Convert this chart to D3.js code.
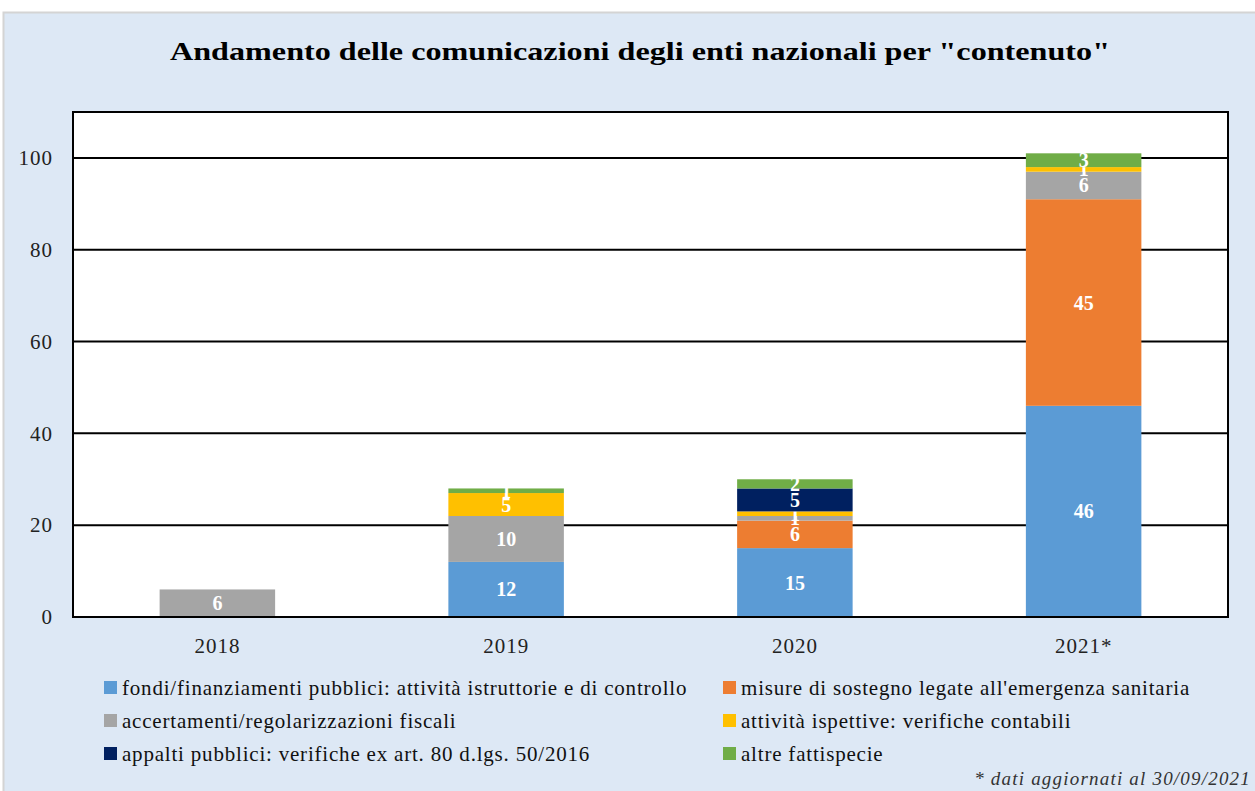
<!DOCTYPE html>
<html>
<head>
<meta charset="utf-8">
<script src="https://cdn.jsdelivr.net/npm/d3@7"></script>
<style>
  body { margin: 0; background: #fff; }
  text { font-family: "Liberation Serif", "DejaVu Serif", serif; }
</style>
</head>
<body>
<div id="chart"></div>
<script>
// data
const years = ["2018", "2019", "2020", "2021*"];
const seriesNames = [
  "fondi/finanziamenti pubblici: attività istruttorie e di controllo",
  "misure di sostegno legate all'emergenza sanitaria",
  "accertamenti/regolarizzazioni fiscali",
  "attività ispettive: verifiche contabili",
  "appalti pubblici: verifiche ex art. 80 d.lgs. 50/2016",
  "altre fattispecie"
];
const seriesColors = ["#5b9bd5", "#ed7d31", "#a5a5a5", "#ffc000", "#002060", "#70ad47"];
const fondi = [0, 12, 15, 46];
const misure = [0, 0, 6, 45];
const accertamenti = [6, 10, 1, 6];
const ispettive = [0, 5, 1, 1];
const appalti = [0, 0, 5, 0];
const altre = [0, 1, 2, 3];
const yTicks = [0, 20, 40, 60, 80, 100];

const W = 1255, H = 791;
const margin = { left: 73, right: 27, top: 112, bottom: 174 };

const svg = d3.select("#chart").append("svg").attr("width", W).attr("height", H);

// background panel
svg.append("rect")
  .attr("x", 3.5).attr("y", 12.5)
  .attr("width", W).attr("height", H)
  .attr("fill", "#dde8f5")
  .attr("stroke", "#d4d4d4").attr("stroke-width", 2);

svg.append("text")
  .attr("x", 640).attr("y", 60)
  .attr("text-anchor", "middle")
  .attr("font-size", 25).attr("font-weight", "bold")
  .attr("textLength", 940).attr("lengthAdjust", "spacingAndGlyphs")
  .text('Andamento delle comunicazioni degli enti nazionali per "contenuto"');

const x0 = margin.left, x1 = W - margin.right;
const y0 = margin.top, y1 = H - margin.bottom;

const x = d3.scaleBand().domain(years).range([x0, x1]).paddingInner(0.6).paddingOuter(0.3);
const y = d3.scaleLinear().domain([0, 110]).range([y1, y0]);

// plot area
svg.append("rect")
  .attr("x", x0).attr("y", y0)
  .attr("width", x1 - x0).attr("height", y1 - y0)
  .attr("fill", "#fff");

// gridlines
svg.append("g")
  .selectAll("line")
  .data(yTicks.filter(d => d > 0))
  .join("line")
  .attr("x1", x0).attr("x2", x1)
  .attr("y1", d => y(d)).attr("y2", d => y(d))
  .attr("stroke", "#000").attr("stroke-width", 2);

// stacked bars
const table = years.map((yr, i) => ({
  year: yr,
  s0: fondi[i], s1: misure[i], s2: accertamenti[i], s3: ispettive[i], s4: appalti[i], s5: altre[i]
}));
const keys = ["s0", "s1", "s2", "s3", "s4", "s5"];
const stacked = d3.stack().keys(keys)(table);

const layers = svg.append("g").selectAll("g")
  .data(stacked)
  .join("g")
  .attr("fill", (d, i) => seriesColors[i]);

layers.selectAll("rect")
  .data(d => d)
  .join("rect")
  .attr("x", d => x(d.data.year))
  .attr("width", x.bandwidth())
  .attr("y", d => y(d[1]))
  .attr("height", d => y(d[0]) - y(d[1]));

// value labels
layers.selectAll("text")
  .data(d => d.filter(p => p[1] - p[0] > 0))
  .join("text")
  .attr("x", d => x(d.data.year) + x.bandwidth() / 2)
  .attr("y", d => (y(d[0]) + y(d[1])) / 2)
  .attr("dy", "0.35em")
  .attr("text-anchor", "middle")
  .attr("font-size", 20).attr("font-weight", "bold")
  .attr("fill", "#fff")
  .text(d => d[1] - d[0]);

// plot border
svg.append("rect")
  .attr("x", x0).attr("y", y0)
  .attr("width", x1 - x0).attr("height", y1 - y0)
  .attr("fill", "none")
  .attr("stroke", "#000").attr("stroke-width", 2);

// axes
const yAxis = svg.append("g")
  .attr("transform", `translate(${x0},0)`)
  .call(d3.axisLeft(y).tickValues(yTicks).tickSize(0).tickPadding(20));
yAxis.select(".domain").remove();
yAxis.selectAll("text").attr("font-size", 21).attr("fill", "#222")
  .attr("letter-spacing", 1)
  .style("font-family", '"Liberation Serif", serif');

const xAxis = svg.append("g")
  .attr("transform", `translate(0,${y1})`)
  .call(d3.axisBottom(x).tickSize(0).tickPadding(21));
xAxis.select(".domain").remove();
xAxis.selectAll("text").attr("font-size", 21).attr("fill", "#222")
  .attr("letter-spacing", 1)
  .style("font-family", '"Liberation Serif", serif');

// legend
const legendCols = [104, 723];
const legendRows = [688, 721, 754];
const legend = svg.append("g").selectAll("g")
  .data(seriesNames)
  .join("g")
  .attr("transform", (d, i) => `translate(${legendCols[i % 2]},${legendRows[Math.floor(i / 2)]})`);
legend.append("rect")
  .attr("x", 0).attr("y", -7)
  .attr("width", 13).attr("height", 13)
  .attr("fill", (d, i) => seriesColors[i]);
legend.append("text")
  .attr("x", 18).attr("y", 0).attr("dy", "0.35em")
  .attr("font-size", 21).attr("letter-spacing", 0.8).attr("fill", "#111")
  .text(d => d);

svg.append("text")
  .attr("x", 1251).attr("y", 785)
  .attr("text-anchor", "end")
  .attr("font-size", 19).attr("font-style", "italic").attr("letter-spacing", 1.2).attr("fill", "#333")
  .text("* dati aggiornati al 30/09/2021");
</script>
</body>
</html>
